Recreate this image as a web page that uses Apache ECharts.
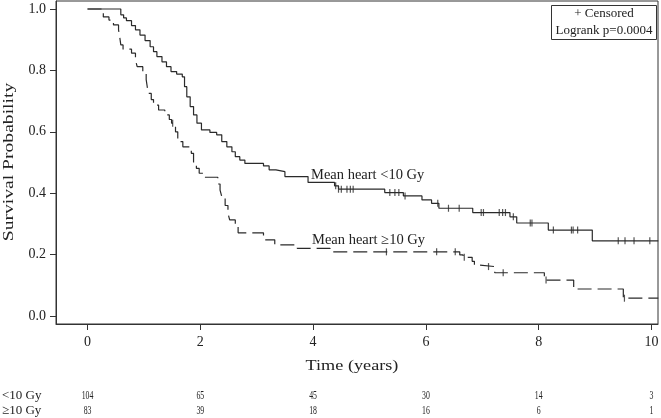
<!DOCTYPE html>
<html><head><meta charset="utf-8">
<script src="https://cdn.jsdelivr.net/npm/echarts@6/dist/echarts.min.js"></script>
<style>html,body{margin:0;padding:0;background:#fff}#c{width:661px;height:418px}</style>
</head><body><div id="c"></div>
<script>
// ---- data ----
const lowTimes = [0,0.59,0.64,0.69,0.78,0.85,0.93,1.02,1.11,1.17,1.23,1.32,1.40,1.48,1.58,1.68,1.72,1.76,1.82,1.88,1.94,2.02,2.17,2.29,2.38,2.47,2.56,2.62,2.70,2.79,3.12,3.22,3.34,3.50,3.91,4.38,4.45,5.27,5.60,5.93,6.10,6.23,6.83,7.49,7.61,8.17,8.95,10.12];
const lowSurv  = [1.0,0.981,0.971,0.962,0.946,0.932,0.915,0.897,0.877,0.861,0.845,0.828,0.812,0.796,0.788,0.779,0.747,0.714,0.682,0.655,0.628,0.606,0.598,0.590,0.568,0.551,0.535,0.519,0.508,0.497,0.489,0.476,0.470,0.454,0.435,0.424,0.413,0.402,0.391,0.378,0.367,0.351,0.337,0.323,0.303,0.280,0.245,0.245];
const lowCensor = [4.40,4.45,4.50,4.60,4.66,4.71,5.36,5.45,5.52,5.63,6.21,6.40,6.59,6.98,7.02,7.30,7.36,7.41,7.55,7.85,7.88,8.26,8.58,8.61,8.69,9.41,9.53,9.69,9.97,10.12];

const highTimes = [0,0.28,0.38,0.46,0.55,0.57,0.59,0.63,0.78,0.85,0.88,0.98,1.04,1.06,1.08,1.13,1.17,1.26,1.37,1.45,1.49,1.56,1.60,1.69,1.84,1.88,1.93,1.98,2.08,2.31,2.35,2.38,2.44,2.49,2.52,2.62,2.67,3.12,3.32,3.72,4.30,6.60,6.66,6.82,6.86,6.93,7.22,8.10,8.62,9.50,10.12];
const highSurv  = [1.0,0.974,0.964,0.948,0.932,0.910,0.883,0.869,0.856,0.835,0.812,0.796,0.770,0.745,0.725,0.705,0.687,0.671,0.655,0.640,0.628,0.600,0.568,0.551,0.530,0.497,0.481,0.465,0.452,0.430,0.410,0.389,0.360,0.335,0.313,0.290,0.271,0.248,0.232,0.220,0.209,0.199,0.191,0.178,0.166,0.161,0.141,0.117,0.088,0.058,0.058];
const highCensor = [1.51,5.30,6.19,6.52,6.68,7.11,7.37,8.13,9.52];

const xTicks = [0,2,4,6,8,10];
const yTicks = [0,0.2,0.4,0.6,0.8,1.0];
const xTitle = 'Time (years)';
const yTitle = 'Survival Probability';
const groupNames = ['<10 Gy','\u226510 Gy'];
const curveNames = ['Mean heart <10 Gy','Mean heart \u226510 Gy'];
const riskLow  = [104,65,45,30,14,3];
const riskHigh = [83,39,18,16,6,1];
const legendLines = ['+ Censored','Logrank p=0.0004'];

// ---- helpers ----
function stepValue(times, surv, t){ let s = surv[0]; for (let i=0;i<times.length;i++){ if (times[i] <= t) s = surv[i]; } return s; }
function zip(a,b){ return a.map((v,i)=>[v,b[i]]); }

const FONT = 'Liberation Serif';
const INK = '#222';
const chart = echarts.init(document.getElementById('c'), null, {renderer:'canvas'});

const option = {
  animation:false,
  backgroundColor:'#fff',
  grid:{left:56,right:3,top:1,bottom:94,containLabel:false,outerBoundsMode:'none',
        show:true,borderColor:'#333',borderWidth:1,backgroundColor:'transparent'},
  xAxis:{type:'value',min:-0.559,max:10.115,
    axisLine:{show:true,onZero:false,lineStyle:{color:'#333',width:1}},
    axisTick:{show:true,length:6,customValues:xTicks,lineStyle:{color:'#333'}},
    axisLabel:{customValues:xTicks,fontFamily:FONT,fontSize:14,color:INK,margin:11},
    splitLine:{show:false}},
  yAxis:{type:'value',min:-0.026,max:1.026,
    axisLine:{show:true,onZero:false,lineStyle:{color:'#333',width:1}},
    axisTick:{show:true,length:6,customValues:yTicks,lineStyle:{color:'#333'}},
    axisLabel:{customValues:yTicks,fontFamily:FONT,fontSize:14,color:INK,margin:10,formatter:v=>v.toFixed(1)},
    splitLine:{show:false}},
  series:[
    {type:'line',step:'end',data:zip(lowTimes,lowSurv),showSymbol:false,
     lineStyle:{color:'#2a2a2a',width:1.2},z:3},
    {type:'line',step:'end',data:zip(highTimes,highSurv),showSymbol:false,
     lineStyle:{color:'#2a2a2a',width:1.2,type:[14,6]},z:3},
    {type:'scatter',data:lowCensor.map(t=>[t,stepValue(lowTimes,lowSurv,t)]),
     symbol:'rect',symbolSize:[1.2,7],itemStyle:{color:'#2a2a2a'},z:4},
    {type:'scatter',data:highCensor.map(t=>[t,stepValue(highTimes,highSurv,t)]),
     symbol:'rect',symbolSize:[1.2,7],itemStyle:{color:'#2a2a2a'},z:4}
  ]
};
chart.setOption(option);

// annotations, titles, risk table
const g = [];
function txt(x,y,text,size,opts){
  return Object.assign({type:'text',x:x,y:y,style:{text:text,fontFamily:FONT,fontSize:size,fill:INK,align:'center',verticalAlign:'middle'}},opts||{});
}
g.push({type:'rect',left:551,top:5,shape:{width:105,height:34},style:{fill:'#fff',stroke:'#333',lineWidth:1},z:10});
g.push(txt(604,14,legendLines[0],13,{z:11}));
g.push(txt(604,31,legendLines[1],13,{z:11}));
const l1 = txt(311,175,curveNames[0],14.5,{z:11}); l1.style.align='left'; g.push(l1);
const l2 = txt(312,240,curveNames[1],14.5,{z:11}); l2.style.align='left'; g.push(l2);
g.push(txt(352,366,xTitle,14,{scaleX:1.3}));
g.push(txt(9,162,yTitle,14,{rotation:Math.PI/2,scaleX:1.4}));
const r1 = txt(2,396,groupNames[0],13); r1.style.align='left'; g.push(r1);
const r2 = txt(2,411,groupNames[1],13); r2.style.align='left'; g.push(r2);
xTicks.forEach((t,i)=>{
  const px = chart.convertToPixel({xAxisIndex:0},t);
  g.push(txt(px,396,String(riskLow[i]),13,{scaleX:0.6}));
  g.push(txt(px,411,String(riskHigh[i]),13,{scaleX:0.6}));
});
chart.setOption({graphic:g});
</script></body></html>
